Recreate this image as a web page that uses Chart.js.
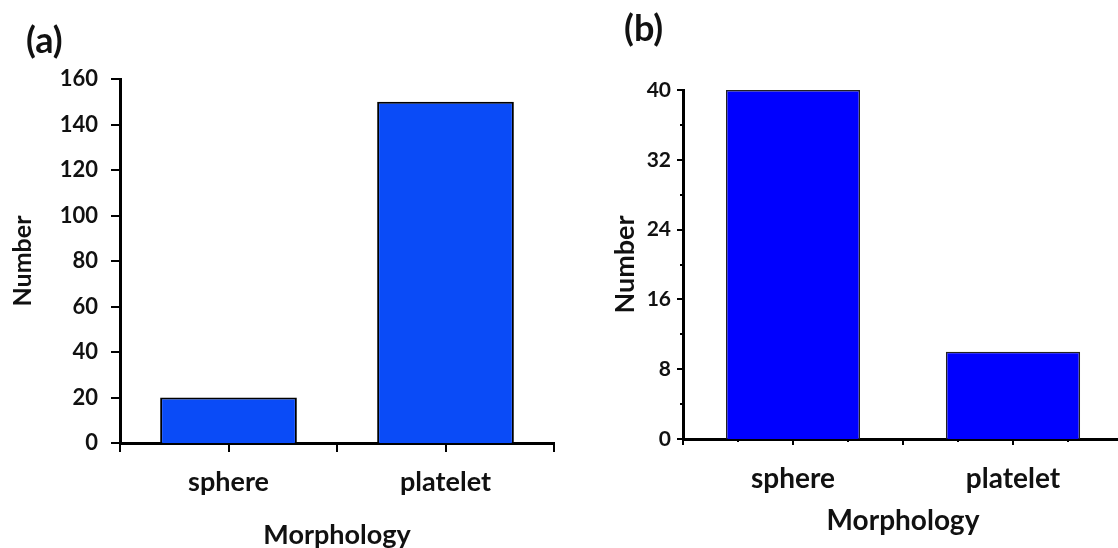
<!DOCTYPE html>
<html>
<head>
<meta charset="utf-8">
<script src="https://cdn.jsdelivr.net/npm/chart.js@4/dist/chart.umd.min.js"></script>
<style>
  html, body { margin: 0; padding: 0; background: #fff; overflow: hidden; }
  body { width: 1118px; height: 548px; position: relative; }
  .panel { position: absolute; top: 0; height: 548px; }
  #wrapA { left: 0; width: 575px; }
  #wrapB { left: 580px; width: 548px; }
  .tag { position: absolute; font: bold 36px Lato, sans-serif; color: #111; line-height: 1; }
  #tagA { left: 26px; top: 21px; }
  #tagB { left: 624px; top: 9px; }
</style>
</head>
<body>
<div class="panel" id="wrapA"><canvas id="chartA"></canvas></div>
<div class="panel" id="wrapB"><canvas id="chartB"></canvas></div>
<div class="tag" id="tagA">(a)</div>
<div class="tag" id="tagB">(b)</div>
<script>
const categories = ['sphere', 'platelet'];
const countsA = [20, 150];
const countsB = [40, 10];
const yTicksA = [0, 160, 20];   // min, max, step
const yTicksB = [0, 40, 8];

// draws outward tick marks (major + minor) on both axes
const tickMarks = {
    id: 'tickMarks',
    afterDraw(chart, args, opts) {
        const {ctx, scales: {x, y}} = chart;
        ctx.save();
        ctx.strokeStyle = '#000';
        ctx.lineWidth = opts.width;
        const eps = 1e-6;
        for (let v = -0.5; v <= x.max + 0.5 + eps; v += opts.xStep) {
            const isMajor = Math.abs(v / opts.xMajor - Math.round(v / opts.xMajor)) < eps;
            const len = isMajor ? opts.major : opts.minor;
            const px = Math.round(x.getPixelForValue(v));
            ctx.beginPath();
            ctx.moveTo(px, x.top);
            ctx.lineTo(px, x.top + len);
            ctx.stroke();
        }
        for (let v = y.min; v <= y.max + eps; v += opts.yStep) {
            const isMajor = Math.abs(v / opts.yMajor - Math.round(v / opts.yMajor)) < eps;
            const len = isMajor ? opts.major : opts.minor;
            const py = Math.round(y.getPixelForValue(v));
            ctx.beginPath();
            ctx.moveTo(y.right, py);
            ctx.lineTo(y.right - len, py);
            ctx.stroke();
        }
        ctx.restore();
    }
};

function makeChart(id, values, yRange, look) {
    const font = (size, lh) => ({family: 'Lato, sans-serif', weight: 'bold', size: size, lineHeight: lh || 1.2});
    return new Chart(document.getElementById(id), {
        type: 'bar',
        data: {
            labels: categories,
            datasets: [{
                data: values,
                backgroundColor: look.fill,
                borderColor: look.edge,
                borderWidth: look.edgeWidth,
                borderSkipped: 'bottom',
                barPercentage: look.barPct,
                categoryPercentage: 1
            }]
        },
        options: {
            responsive: true,
            maintainAspectRatio: false,
            animation: false,
            layout: {padding: look.padding},
            scales: {
                x: {
                    offset: true,
                    grid: {display: false, drawTicks: false},
                    border: {display: true, color: '#000', width: 3},
                    ticks: {color: '#111', font: font(look.catSize), padding: look.xPad, maxRotation: 0},
                    title: {display: true, text: 'Morphology', color: '#111', font: font(look.titleSize, 1),
                            padding: {top: 0, bottom: look.xTitlePad}},
                    afterFit: (s) => { s.height = look.xHeight; }
                },
                y: {
                    min: yRange[0],
                    max: yRange[1],
                    grid: {display: false, drawTicks: false},
                    border: {display: true, color: '#000', width: 3},
                    ticks: {stepSize: yRange[2], color: '#111', font: font(look.numSize), padding: look.yPad},
                    title: {display: true, text: 'Number', color: '#111', font: font(look.yTitleSize, 1),
                            padding: {top: look.yTitlePad, bottom: 0}},
                    afterFit: (s) => { s.width = look.yWidth; }
                }
            },
            plugins: {
                legend: {display: false},
                tooltip: {enabled: false},
                tickMarks: look.marks
            }
        },
        plugins: [tickMarks]
    });
}

makeChart('chartA', countsA, yTicksA, {
    fill: '#0a4bf7', edge: '#000', edgeWidth: 2, barPct: 0.63,
    padding: {top: 79, right: 21, left: 0, bottom: 0},
    numSize: 22, catSize: 27, titleSize: 27, yTitleSize: 25,
    xPad: 23, yPad: 22, xTitlePad: -1, yTitlePad: 10,
    xHeight: 105, yWidth: 120,
    marks: {width: 2, xStep: 0.5, xMajor: 0.5, yStep: 20, yMajor: 20, major: 9, minor: 9}
});

makeChart('chartB', countsB, yTicksB, {
    fill: '#0000ff', edge: '#222', edgeWidth: 1.5, barPct: 0.61,
    padding: {top: 90, right: 5, left: 0, bottom: 0},
    numSize: 21, catSize: 28, titleSize: 28, yTitleSize: 27,
    xPad: 23, yPad: 12, xTitlePad: 13, yTitlePad: 32,
    xHeight: 109, yWidth: 103,
    marks: {width: 2, xStep: 0.25, xMajor: 0.5, yStep: 4, yMajor: 8, major: 6, minor: 3}
});
</script>
</body>
</html>
